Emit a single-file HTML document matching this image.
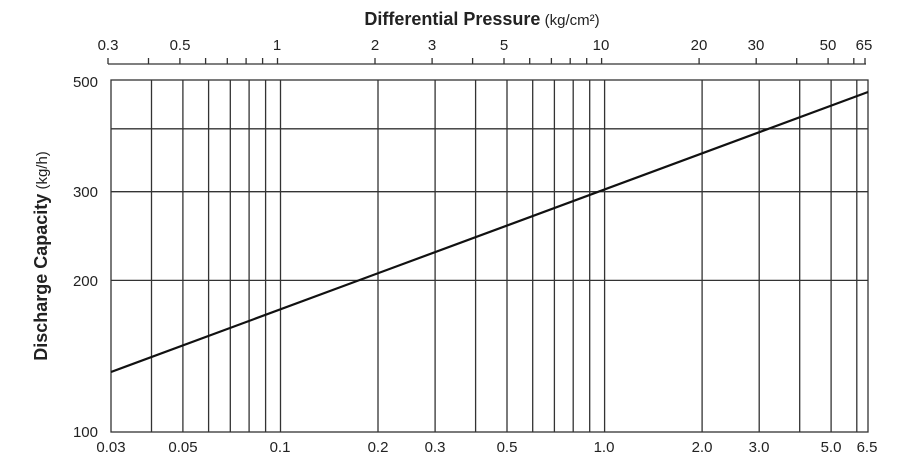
<!DOCTYPE html><html><head><style>body{margin:0;background:#fff}</style></head><body>
<svg width="900" height="464" xmlns="http://www.w3.org/2000/svg" font-family="Liberation Sans, sans-serif" fill="#222">
<rect width="900" height="464" fill="#fff"/>
<text x="482" y="25" text-anchor="middle" font-size="18"><tspan font-weight="bold">Differential Pressure</tspan><tspan font-size="15"> (kg/cm²)</tspan></text>
<text transform="translate(47,256) rotate(-90)" text-anchor="middle" font-size="18"><tspan font-weight="bold">Discharge Capacity</tspan><tspan font-size="15"> (kg/h)</tspan></text>
<g stroke="#333" stroke-width="1.3" fill="none">
<line x1="108" y1="64" x2="866" y2="64"/>
<path d="M108 58V64M148.5 58V64M179.9 58V64M205.6 58V64M227.3 58V64M246.1 58V64M262.6 58V64M277.5 58V64M375 58V64M432.1 58V64M472.6 58V64M504 58V64M529.7 58V64M551.4 58V64M570.2 58V64M586.7 58V64M601.6 58V64M699.1 58V64M756.2 58V64M796.7 58V64M828.1 58V64M853.8 58V64M865 58V64"/>
<rect x="111" y="80" width="757" height="352"/>
<path d="M151.5 80V432M182.9 80V432M208.6 80V432M230.3 80V432M249.1 80V432M265.6 80V432M280.5 80V432M378 80V432M435.1 80V432M475.6 80V432M507 80V432M532.7 80V432M554.4 80V432M573.2 80V432M589.7 80V432M604.6 80V432M702.1 80V432M759.2 80V432M799.7 80V432M831.1 80V432M856.8 80V432"/>
<path d="M111 280.4H868M111 191.7H868M111 128.8H868"/>
<line x1="111" y1="372" x2="868" y2="92" stroke="#111" stroke-width="2.2"/>
</g>
<g font-size="15" text-anchor="middle">
<text x="108" y="50">0.3</text><text x="180" y="50">0.5</text><text x="277" y="50">1</text><text x="375" y="50">2</text><text x="432" y="50">3</text><text x="504" y="50">5</text><text x="601" y="50">10</text><text x="699" y="50">20</text><text x="756" y="50">30</text><text x="828" y="50">50</text><text x="864" y="50">65</text>
<text x="111" y="452">0.03</text><text x="183" y="452">0.05</text><text x="280" y="452">0.1</text><text x="378" y="452">0.2</text><text x="435" y="452">0.3</text><text x="507" y="452">0.5</text><text x="604" y="452">1.0</text><text x="702" y="452">2.0</text><text x="759" y="452">3.0</text><text x="831" y="452">5.0</text><text x="867" y="452">6.5</text>
</g>
<g font-size="15" text-anchor="end">
<text x="98" y="87">500</text><text x="98" y="197">300</text><text x="98" y="286">200</text><text x="98" y="437">100</text>
</g>
</svg></body></html>
